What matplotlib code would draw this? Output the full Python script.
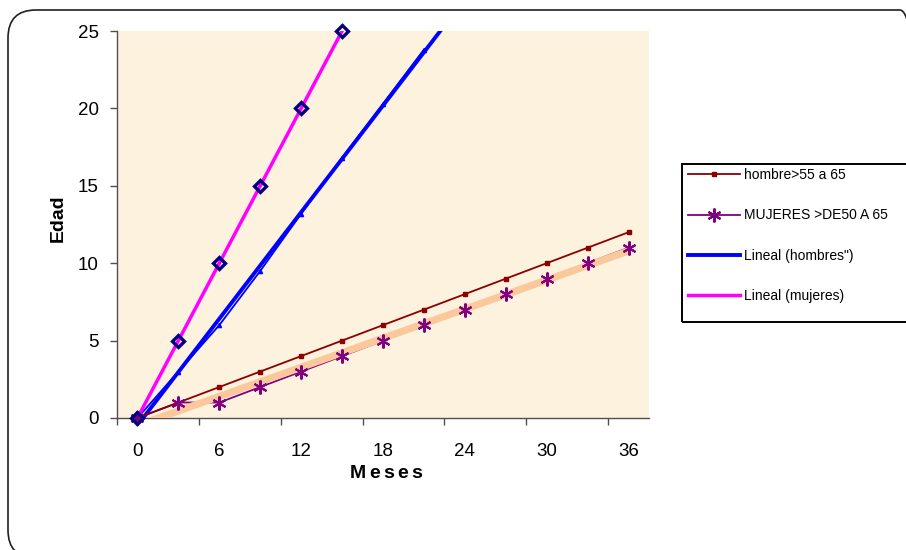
import numpy as np
import matplotlib
matplotlib.use('Agg')
import matplotlib.pyplot as plt
from matplotlib.patches import FancyBboxPatch, Rectangle
from matplotlib.transforms import IdentityTransform
from matplotlib.lines import Line2D

# ---------------- data ----------------
months = [0, 3, 6, 9, 12, 15, 18, 21, 24, 27, 30, 33, 36]
hombre_55_65 = [0, 1, 2, 3, 4, 5, 6, 7, 8, 9, 10, 11, 12]
mujeres_50_65 = [0, 1, 1, 2, 3, 4, 5, 6, 7, 8, 9, 10, 11]
hombres_q = [0, 3, 6, 9.5, 13.2, 16.8, 20.3, 23.8]
mujeres = [0, 5, 10, 15, 20, 25]
xtick_labels = ['0', '6', '12', '18', '24', '30', '36']
yticks = [0, 5, 10, 15, 20, 25]

legend_labels = ['hombre>55 a 65', 'MUJERES >DE50 A 65',
                 'Lineal (hombres")', 'Lineal (mujeres)']
xlabel_text = 'Meses'
ylabel_text = 'Edad'

# ---------------- style ----------------
plt.rcParams['font.family'] = ['Liberation Sans', 'DejaVu Sans']

W, H = 906, 550
fig = plt.figure(figsize=(W / 100, H / 100), dpi=100)
fig.patch.set_facecolor('white')

L, R, T, B = 117, 649, 31, 418
ax = fig.add_axes([L / W, 1 - B / H, (R - L) / W, (B - T) / H])
ax.set_facecolor('#FCF2DE')

idx = np.arange(len(months))
full = np.linspace(0, len(months) - 1, 200)

def trend(values):
    x = np.arange(len(values))
    b, a = np.polyfit(x, values, 1)
    return a + b * full

c_hom = '#8B0000'
c_muj = '#800080'
c_blue = '#0000FF'
c_mag = '#FF00FF'
c_peach = '#FBC89C'
c_navy = '#000080'

# series lines
ax.plot(idx, hombre_55_65, color=c_hom, lw=1.3, marker='s', ms=3.5,
        mec=c_hom, mfc=c_hom, zorder=4, clip_on=False)
ax.plot(idx, mujeres_50_65, color=c_muj, lw=1.3, zorder=3, clip_on=False)
ax.plot(np.arange(len(hombres_q)), hombres_q, color=c_blue, lw=1.3,
        marker='^', ms=3, mec=c_blue, mfc=c_blue, zorder=3)

# trendlines
ax.plot(full, trend(mujeres_50_65), color=c_peach, lw=5.2, zorder=3.5,
        solid_capstyle='butt')
ax.plot(full, trend(hombres_q), color=c_blue, lw=2.8, zorder=3,
        solid_capstyle='butt')
ax.plot(full, trend(mujeres), color=c_mag, lw=2.5, zorder=3,
        solid_capstyle='butt')

# markers on top
ax.plot(idx, mujeres_50_65, linestyle='none', marker=(6, 2, 0), ms=10,
        mew=1.5, mec=c_muj, zorder=5, clip_on=False)
ax.plot(np.arange(len(mujeres)), mujeres, linestyle='none', marker='D',
        ms=6.5, mfc='none', mec=c_navy, mew=2.4, zorder=5, clip_on=False)

ax.set_xlim(-0.5, len(months) - 0.5)
ax.set_ylim(0, 25)

# axes styling
for s in ['top', 'right']:
    ax.spines[s].set_visible(False)
for s in ['left', 'bottom']:
    ax.spines[s].set_color('#505050')
    ax.spines[s].set_linewidth(1.0)

ax.set_xticks(np.arange(-0.5, len(months) - 1, 2))
ax.set_xticklabels([])
ax.set_xticks(idx[::2], minor=True)
ax.set_xticklabels(xtick_labels, minor=True)
ax.tick_params(axis='x', which='major', direction='out', length=5,
               width=1.0, color='#505050')
ax.tick_params(axis='x', which='minor', length=0, pad=18, labelsize=13.5)
ax.set_yticks(yticks)
ax.set_yticklabels([str(v) for v in yticks])
ax.tick_params(axis='y', direction='out', length=5, width=1.0,
               color='#505050', pad=8, labelsize=13.5)

ax.set_ylabel(ylabel_text, fontsize=14, fontweight='bold')
ax.yaxis.set_label_coords((67 - L) / (R - L), (B - 218) / (B - T))

# x label drawn letter by letter with extra tracking
renderer = fig.canvas.get_renderer()
widths = []
tmp = []
for ch in xlabel_text:
    t = fig.text(0, 0, ch, fontsize=14, fontweight='bold')
    widths.append(t.get_window_extent(renderer).width)
    tmp.append(t)
for t in tmp:
    t.remove()
target = 73.0
gap = (target - sum(widths)) / (len(xlabel_text) - 1)
x0 = 386 - target / 2
for ch, w in zip(xlabel_text, widths):
    fig.text(x0 / W, 1 - 465 / H, ch, fontsize=14, fontweight='bold',
             ha='left', va='top')
    x0 += w + gap

# legend
handles = [
    Line2D([], [], color=c_hom, lw=1.3, marker='s', ms=3.5, mfc=c_hom, mec=c_hom),
    Line2D([], [], color=c_muj, lw=1.3, marker=(6, 2, 0), ms=10, mew=1.5, mec=c_muj),
    Line2D([], [], color=c_blue, lw=2.8),
    Line2D([], [], color=c_mag, lw=2.5),
]
fig.legend(handles, legend_labels, loc='upper left',
           bbox_to_anchor=(688 / W, 1 - 168 / H), frameon=False,
           fontsize=10, handlelength=3.75, handletextpad=0.25,
           labelspacing=1.9, borderpad=0, borderaxespad=0)

# legend frame
fig.add_artist(Rectangle((681.5, H - 321.7), 250, 321.7 - 164,
                         transform=IdentityTransform(), fill=False,
                         ec='black', lw=1.4))

# outer rounded border (right and bottom edges run off the canvas)
fig.add_artist(FancyBboxPatch((8, -8), 920, H - 10 + 8,
                              boxstyle='round,pad=0,rounding_size=28',
                              transform=IdentityTransform(), fill=False,
                              ec='#202020', lw=1.2))

fig.savefig('out.png', dpi=100)
